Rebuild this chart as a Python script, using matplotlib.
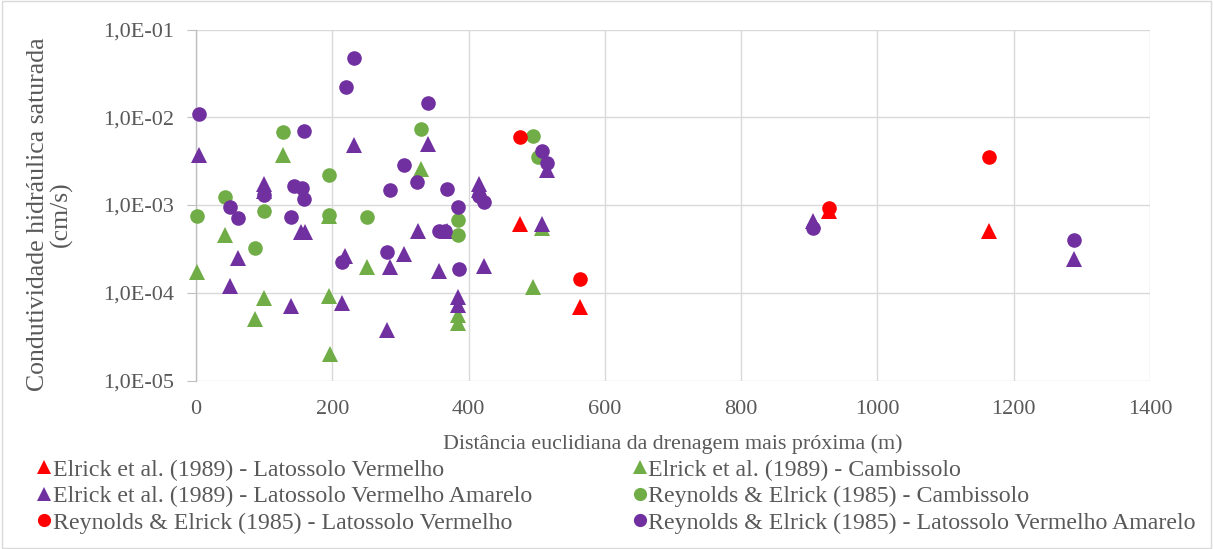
import matplotlib
matplotlib.use("Agg")
import matplotlib.pyplot as plt
from matplotlib.ticker import FuncFormatter, FixedLocator, NullLocator
from matplotlib.patches import Rectangle

# ---- data (distance m, Ksat cm/s) ----
elrick_lv_x = [475, 564, 929, 1164]
elrick_lv_y = [6.1e-4, 6.8e-5, 8.5e-4, 5.0e-4]

reynolds_lv_x = [475, 564, 929, 1164]
reynolds_lv_y = [5.9e-3, 1.42e-4, 9.2e-4, 3.55e-3]

elrick_camb_x = [2, 42, 87, 100, 128, 195, 195, 196, 251, 330, 385, 385, 495, 508]
elrick_camb_y = [1.74e-4, 4.55e-4, 5.0e-5, 8.8e-5, 3.72e-3, 7.5e-4, 9.2e-5, 2.0e-5,
                 1.98e-4, 2.55e-3, 5.6e-5, 4.5e-5, 1.15e-4, 5.4e-4]

reynolds_camb_x = [2, 42, 87, 100, 128, 195, 195, 251, 330, 385, 385, 495, 502]
reynolds_camb_y = [7.5e-4, 1.22e-3, 3.2e-4, 8.55e-4, 6.73e-3, 2.18e-3, 7.7e-4, 7.36e-4,
                   7.3e-3, 6.75e-4, 4.52e-4, 6.17e-3, 3.55e-3]

elrick_lva_x = [5, 50, 61, 100, 100, 140, 154, 160, 214, 219, 232, 281, 285, 305, 326,
                340, 357, 368, 385, 385, 416, 416, 422, 508, 515, 906, 1288]
elrick_lva_y = [3.72e-3, 1.19e-4, 2.51e-4, 1.72e-3, 1.45e-3, 7.06e-5, 4.9e-4, 4.9e-4,
                7.6e-5, 2.62e-4, 4.83e-3, 3.76e-5, 1.98e-4, 2.77e-4, 5.06e-4, 4.92e-3,
                1.77e-4, 5.0e-4, 9.0e-5, 7.2e-5, 1.73e-3, 1.5e-3, 2.03e-4, 6.03e-4,
                2.51e-3, 6.6e-4, 2.42e-4]

reynolds_lva_x = [5, 50, 61, 100, 140, 144, 155, 159, 159, 214, 220, 232, 280, 285, 305,
                  325, 340, 356, 366, 368, 385, 386, 416, 422, 508, 515, 906, 1288]
reynolds_lva_y = [1.1e-2, 9.6e-4, 7.2e-4, 1.3e-3, 7.36e-4, 1.66e-3, 1.55e-3, 7.03e-3,
                  1.16e-3, 2.26e-4, 2.19e-2, 4.78e-2, 2.91e-4, 1.48e-3, 2.83e-3, 1.83e-3,
                  1.45e-2, 5.0e-4, 5.0e-4, 1.53e-3, 9.5e-4, 1.85e-4, 1.27e-3, 1.07e-3,
                  4.16e-3, 2.99e-3, 5.42e-4, 3.99e-4]

labels = [
    "Elrick et al. (1989) - Latossolo Vermelho",
    "Elrick et al. (1989) - Cambissolo",
    "Elrick et al. (1989) - Latossolo Vermelho Amarelo",
    "Reynolds & Elrick (1985) - Cambissolo",
    "Reynolds & Elrick (1985) - Latossolo Vermelho",
    "Reynolds & Elrick (1985) - Latossolo Vermelho Amarelo",
]
x_ticks = [0, 200, 400, 600, 800, 1000, 1200, 1400]
y_ticks = [1e-5, 1e-4, 1e-3, 1e-2, 1e-1]

RED = "#FF0000"
GREEN = "#70AD47"
PURPLE = "#7030A0"
TXT = "#595959"

plt.rcParams['font.family'] = ['Liberation Serif', 'DejaVu Serif']

fig = plt.figure(figsize=(12.13, 5.49), dpi=100)
fig.patches.append(Rectangle((0.0015, 0.002), 0.997, 0.996, transform=fig.transFigure,
                             fill=False, edgecolor="#D9D9D9", linewidth=1.0))
ax = fig.add_axes([196/1213, 1-380.5/549, (1150-196)/1213, (380.5-29.5)/549])

series = [
    (elrick_lv_x, elrick_lv_y, "^", RED),
    (elrick_camb_x, elrick_camb_y, "^", GREEN),
    (elrick_lva_x, elrick_lva_y, "^", PURPLE),
    (reynolds_camb_x, reynolds_camb_y, "o", GREEN),
    (reynolds_lv_x, reynolds_lv_y, "o", RED),
    (reynolds_lva_x, reynolds_lva_y, "o", PURPLE),
]
handles = []
for (xs, ys, m, c), lab in zip(series, labels):
    ms = 10.5 if m == "o" else 11
    ax.plot(xs, ys, linestyle="none", marker=m, color=c, markersize=ms,
            markeredgewidth=0, label=lab, zorder=3, clip_on=False)
    h, = ax.plot([], [], linestyle="none", marker=m, color=c, markersize=9.5,
                 markeredgewidth=0)
    handles.append(h)

ax.set_yscale("log")
ax.set_xlim(0, 1400)
ax.set_ylim(1e-5, 1e-1)
ax.xaxis.set_major_locator(FixedLocator(x_ticks))
ax.yaxis.set_major_locator(FixedLocator(y_ticks))
ax.yaxis.set_minor_locator(NullLocator())
ax.yaxis.set_major_formatter(FuncFormatter(lambda v, p: ("%.1E" % v).replace(".", ",")))
ax.grid(True, color="#D9D9D9", linewidth=1.0, zorder=0)
ax.set_axisbelow(True)
for s in ["top", "right", "bottom"]:
    ax.spines[s].set_visible(False)
ax.spines["left"].set_color("#BFBFBF")
ax.spines["left"].set_linewidth(1.0)
ax.tick_params(axis="y", length=6.5, color="#BFBFBF", labelcolor=TXT, labelsize=16, pad=9)
ax.tick_params(axis="x", length=0, labelcolor=TXT, labelsize=16, pad=14)

fig.text(673/1213, 1-444/549, "Distância euclidiana da drenagem mais próxima (m)",
         color=TXT, fontsize=15.8, ha="center", va="center")
fig.text(50/1213, 1-214/549, "Condutividade hidráulica saturada\n(cm/s)", color=TXT,
         fontsize=18.5, ha="center", va="center", rotation=90, linespacing=1.05,
         multialignment="center")

order = [0, 2, 4, 1, 3, 5]
leg = fig.legend([handles[i] for i in order], [labels[i] for i in order],
                 loc="upper left", bbox_to_anchor=(26/1213, 1-447/549), ncol=2,
                 frameon=False, fontsize=17.2, labelcolor=TXT, handlelength=0.5,
                 handletextpad=0.12, labelspacing=0.2, columnspacing=4.25, borderpad=0)

fig.savefig("out.png", dpi=100)
